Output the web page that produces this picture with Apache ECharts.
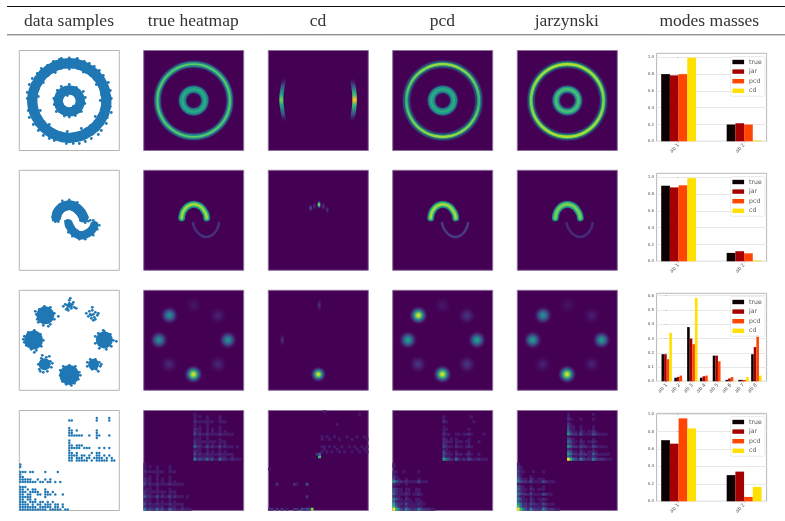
<!DOCTYPE html>
<html><head><meta charset="utf-8">
<style>html,body{margin:0;padding:0;background:#fff}#c{width:785px;height:521px}canvas{filter:blur(.45px)}</style>
<script src="https://cdn.jsdelivr.net/npm/echarts@6/dist/echarts.min.js"></script>
</head><body><div id="c"></div>
<script>
const columnTitles=['data samples','true heatmap','cd','pcd','jarzynski','modes masses'];
const legendNames=['true','jar','pcd','cd'];
const barColors=['#0d0000','#a50000','#ff4500','#ffe000'];
const massLabels2=['ab 1','ab 2'];
const massLabels8=['ab 1','ab 2','ab 3','ab 4','ab 5','ab 6','ab 7','ab 8'];
const massRow1=[[.80,.20],[.785,.215],[.80,.20],[.995,.01]];
const massRow2=[[.90,.10],[.88,.12],[.905,.095],[.99,.01]];
const massRow3=[[.19,.025,.38,.025,.18,.01,.01,.19],[.19,.03,.30,.035,.18,.02,.01,.24],[.155,.04,.26,.04,.14,.03,.01,.325],[.34,.002,.585,.002,.002,.002,.03,.04]];
const massRow4=[[.70,.30],[.66,.34],[.95,.05],[.835,.165]];

const ringCore=[[87,50],[86,56.5],[84.8,62.5],[82,68.4],[78.2,73.6],[73.6,78.2],[68.4,81.8],[62.5,85],[56.4,87],[50,87.4],[43.4,87],[37.3,85.2],[31.6,82],[26.2,78],[21.8,73.6],[18.4,68.4],[15.4,62.3],[13.6,56.4],[13,50],[13.6,43.5],[15.3,37.3],[18.2,31.6],[21.8,26.4],[26.4,21.8],[31.6,18],[37.3,15],[43.5,13.3],[50,12.6],[56.5,13.4],[62.7,15],[68.4,18.2],[73.6,22],[78.2,26.4],[82,31.6],[85,37.3],[86.6,43.5]];
const ringCore2=[[86.9,53.2],[85.7,59.6],[83.5,65.6],[80.3,71.2],[76.2,76.2],[71.2,80.3],[65.6,83.5],[59.6,85.7],[53.2,86.9],[46.8,86.9],[40.4,85.7],[34.4,83.5],[28.8,80.3],[23.8,76.2],[19.7,71.2],[16.5,65.6],[14.3,59.6],[13.1,53.2],[13.1,46.8],[14.3,40.4],[16.5,34.4],[19.7,28.8],[23.8,23.8],[28.8,19.7],[34.4,16.5],[40.4,14.3],[46.8,13.1],[53.2,13.1],[59.6,14.3],[65.6,16.5],[71.2,19.7],[76.2,23.8],[80.3,28.8],[83.5,34.4],[85.7,40.4],[86.9,46.8]];
const ringFuzz=[[92,52],[91,60],[88,33],[91,44],[84,75],[75,84],[65,89],[50,92.5],[40,91],[28,85],[18,77],[10,66],[8,52],[9,40],[14,26],[24,15],[35,10],[47,7],[60,7],[72,12],[82,20],[87,27],[50,81.5],[64,78.5],[77,66],[81,50],[76,34],[62,22],[48,19],[30,26],[21,40],[19,54],[24,68],[36,78],[42,92],[58,92],[70,87],[80,80],[89,68],[92,38],[79,16],[66,9],[54,7],[30,12],[19,20],[10,33],[8,58],[13,72],[22,82],[34,89]];
const innerCore=[[61,49.5],[59.5,55],[55.5,59],[50,60.5],[44.5,59],[40.5,55],[39,49.5],[40.5,44],[44.5,40],[50,38.5],[55.5,40],[59.5,44],[60.6,52.3],[57.8,57.3],[52.8,60.1],[47.2,60.1],[42.2,57.3],[39.4,52.3],[39.4,46.7],[42.2,41.7],[47.2,38.9],[52.8,38.9],[57.8,41.7],[60.6,46.7]];
const innerFuzz=[[50,66],[66,53],[62,39],[50,33.5],[37,39],[34.5,52],[42,64],[57,63],[48,55],[54,44],[65.5,47],[35,46],[45,34.5],[56,35],[64,59],[38,60]];
const moonUpper=[[37,53.3],[37.6,56],[38.3,58],[40,60.2],[41.7,62],[43.8,63.4],[46,64.3],[48.2,64.8],[50.3,65],[52.8,64.6],[55,63.7],[57,62.3],[59,60.7],[60.6,59],[62,57.3],[63.3,55],[64.3,52.7]];
const moonLower=[[49.3,46.7],[50.4,44],[51.7,41.7],[53.2,39.6],[55,38],[57,36.5],[59.3,35.3],[61.5,35],[63.7,35],[66,35.8],[68.3,37],[70.4,38.3],[72.3,40],[73.9,42.4],[75,45]];
const moonFuzz=[[33.5,53],[34,50],[39,48.5],[36,48.5],[37,62],[43,69.5],[50,70.5],[58,68],[65,59],[68,53],[69,49],[61,50],[66,47.5],[46,49],[47,44],[49,38],[53,34],[60,31],[66,31],[74,35],[78,41],[80,45],[74,50],[71,50],[48,50]];
const gaussCore=[[26,75,18],[85,50.3,17],[14.3,50.3,19],[50,15.3,20],[25.3,26,12],[74.3,26,11],[50.3,85,5]];
const gaussFuzz=[[17,76],[18,71],[20,81],[25,84],[31,83],[35,77],[35,71],[31,66],[24,65],[19,68],[39,74],[29,64],[16,79],[76,54],[76,47],[79,57],[85,59],[91,56],[94,50],[92,44],[87,41],[80,42],[97,49],[84,60],[5,54],[5,48],[7,45],[9,58],[15,60],[21,56],[24,50],[22,44],[17,40],[12,41],[4,51],[15,38],[41,15],[41,20],[44,24],[50,25],[56,24],[60,18],[59,11],[55,7],[47,6],[43,9],[52,5],[61,15],[19,26],[20,21],[22,32],[27,33],[31,29],[32,23],[28,19],[24,18],[21,19],[30,34],[33,27],[23,35],[68,28],[68,24],[71,31],[76,31],[80,28],[81,24],[77,21],[79,19],[73,21],[82,26],[44,84],[46,86],[48,82],[50,87],[52,84],[54,88],[50,90],[52,82],[49,80],[55,83],[47,81],[51,92],[53,86],[50,84],[48,85],[57,82],[67,77],[69,74],[70,79],[72,72],[73,80],[74,76],[75,73],[76,78],[78,75],[74,70],[71,76],[73,83],[79,77],[76,71],[72,75]];
const samplesTopRight=[
"....................","...........#....#...","##.........#....#...","....................","....................","#...................","##.#.......#........","##.........#........","######..#..##...#...","...........#........","#...................","#...................","##.###..............","#####.###...#.#.#...","#...................","##.#.....#.##.......","####.##.#..##.#.#...","##.###.##.####.#.#..","##.#####.#.#####.##."];
const samplesBottomLeft=[
"#...................","#...................","....................","###.##....#....#....","#...................","##..................","#####..#..#.#.......","#######.##.##.#.#...","....................","###.................","##.#.##...#.........","###.####..##.#......","##.##..##.###.#..#..","#####.....#.........","##.##.#.............","###.###.##.#.#......","####.#.##.###.##.#..","#######.#####.##.#..","###########.#####.##"];

const ringA=[[86.3,50],[85.1,59.4],[81.4,68.2],[75.7,75.7],[68.2,81.4],[59.4,85.1],[50,86.3],[40.6,85.1],[31.8,81.4],[24.3,75.7],[18.6,68.2],[14.9,59.4],[13.7,50],[14.9,40.6],[18.6,31.8],[24.3,24.3],[31.8,18.6],[40.6,14.9],[50,13.7],[59.4,14.9],[68.2,18.6],[75.7,24.3],[81.4,31.8],[85.1,40.6],[86.3,50]];
const ringB=[[61.3,50],[59.8,55.7],[55.7,59.8],[50,61.3],[44.3,59.8],[40.2,55.7],[38.7,50],[40.2,44.3],[44.3,40.2],[50,38.7],[55.7,40.2],[59.8,44.3],[61.3,50]];
const crescentLeft=[[16,71.3],[14.3,63.3],[13,51.3],[14.3,39],[16,30]];
const crescentRight=[[83.7,71.3],[85.3,63.3],[86.3,51.3],[85.3,39],[83.7,30]];
const arcUpper=[[38,52.3],[38.6,56],[39.7,59],[41.6,61.8],[44,64],[47,65.5],[50,66],[53,65.5],[56.3,64],[58.7,61.8],[60.7,59],[62.3,56],[63,52.3]];
const arcLower=[[49.3,47.3],[50.6,43],[53,39],[57,35.2],[62.3,33.3],[67.5,34.8],[71.3,38],[74,42.5],[75.3,47.3]];
const cdArcSpots=[[50.7,65.7,1],[42.3,62.3,.28],[46,64,.15],[55,64,.18],[59,60.7,.15]];
const modePositions=[[25.7,75],[15.3,50.3],[84.3,50.3],[49.7,16],[50,85],[74.3,74.7],[25.3,26],[74.3,26]];
const modesTrue=[.52,.52,.52,1,.06,.09,.11,.11];
const modesPcd=[1,.6,.6,1,.06,.15,.16,.16];
const modesJar=[.52,.58,.58,1,.05,.08,.09,.09];
const cdModeSpots=[[50,16,1],[51,85,.14],[14,50.3,.14]];

const heatTrue=["10000000000000000000","10100100001000000000","10000100001000000000","21111111001110000000","10000100000000000000","10100100001000000000","21100101001000000000","21100101001010000000","31211211112111110000","10100100000000000000","11100100001000000000","21111111101110000000","21100101001010000000","42211312113121110100","11100100001000000000","21100101001010000000","31211211112111110000","21111111001110010000","52322423114221121110"];
const heatPcdTop=["00000000000000000000","10000000000100000000","10000000000000000000","21000000000010000000","00000000000000000000","10000000000000000000","11000000001000000000","10000000000000000000","21100110112100001000","10000000000000000000","21010100001000000000","22110111011000100000","21000100001000000000","32110211012100000000","11000000000000000000","31100100001000000000","32110211012100100000","31100100001000000000","64321421213211211100"];
const heatPcdBottom=["10000000000000000000","10000000000000000000","00000000000000000000","21001000001000000000","10000000000000000000","21000000000000000000","31100100001000000000","64221211113111000000","21100100000000000000","10000000000000000000","32110110011000000000","32110110011000000000","42111210112100000000","21100100000000000000","53210210011000000000","42111111011100000000","63221311112110000000","74211211111100000000","97532532225322211000"];
const heatJarTop=["10000000001000000000","10000000000000000000","21000100001000000000","10000000000000000000","21000000000000000000","31100100001000000000","31100100001000000000","42110210112100000000","63221311113211110000","10000000000000000000","32100100001000000000","43110210112100000000","32100110001000000000","64221322113211110000","21000100001000000000","43110210112100000000","64221322114211111000","43110210112100000000","97432532225322211100"];
const heatJarBottom=["10000000000000000000","21000000000000000000","21000000000000000000","31100010001000000000","21000000000000000000","31000100000000000000","42110210111000000000","53221311113211100000","10000000000000000000","32100100001000000000","42110210111000000000","32100100000000000000","53221311113211000000","31100100000000000000","53110210112100000000","42110210011000000000","64221322113211100000","74221211112100000000","97532532225322211000"];
const heatCdCells=[[20,21,7],[20,22,4],[19,22,2],[17,0,8],[16,0,3],[13,0,3],[10,0,2],[11,0,2],[0,0,2],[1,0,2],[3,0,2],[5,0,2],[7,0,1],[15,0,3],[14,0,2],[3,10,2],[10,10,2],[11,10,1],[15,10,3],[15,5,2],[0,16,1],[22,39,1],[36,38,1],[27,34,1],
[21,29,1],[23,29,1],[26,29,1],[31,29,1],[35,29,1],[38,29,1],[21,28,1],[24,28,1],[28,28,1],[33,28,1],[39,28,1],[21,25,1],[22,25,1],[24,25,1],[26,25,1],[29,25,1],[32,25,1],[34,25,1],[37,25,1],[39,25,1],[22,24,1],[27,24,1],[35,24,1],[38,24,1],[21,23,1],[23,23,1],[25,23,1],[28,23,1],[30,23,1],[33,23,1],[36,23,1],[39,23,1]];

const VIR=['#440154','#482878','#3e4989','#31688e','#26828e','#1f9e89','#35b779','#6ece58','#b5de2b','#fde725'];
const HEATMAP_COLORS=['#440154','#46196b','#472d7b','#3e4989','#31688e','#26828e','#1f9e89','#35b779','#8fd744','#fde725'];
const hex=c=>[1,3,5].map(i=>parseInt(c.substr(i,2),16));
function vir(t){t=Math.max(0,Math.min(1,t))*9;const i=Math.min(8,Math.floor(t)),f=t-i,a=hex(VIR[i]),b=hex(VIR[i+1]);return 'rgb('+a.map((v,k)=>Math.round(v+(b[k]-v)*f)).join(',')+')';}
const blob=v=>({type:'radial',x:.5,y:.5,r:.5,colorStops:[{offset:0,color:vir(v)},{offset:.2,color:vir(v*.82)},{offset:.45,color:vir(v*.45)},{offset:.72,color:vir(v*.1)},{offset:1,color:'rgba(68,1,84,0)'}]});

const colLeft=[19.3,143.7,268.3,392.7,517.3];
const rowTop=[50.5,170.3,290.3,410.5];
const grid=[],xAxis=[],yAxis=[],series=[],legend=[],heatIdx=[];
function panel(l,t,bg,cat){
  const g=grid.length;
  grid.push({left:l,top:t,width:100,height:100,show:true,backgroundColor:bg,borderColor:bg==='#fff'?'#b4b4b4':'#8f6fa0',borderWidth:1});
  const cats=Array.from({length:40},(_,i)=>i);
  xAxis.push(cat?{gridIndex:g,type:'category',data:cats,show:false}:{gridIndex:g,type:'value',min:0,max:100,show:false});
  yAxis.push(cat?{gridIndex:g,type:'category',data:cats,show:false}:{gridIndex:g,type:'value',min:0,max:100,show:false});
  return g;
}
const dots=(g,data,size)=>series.push({type:'scatter',xAxisIndex:g,yAxisIndex:g,data,symbolSize:size,itemStyle:{color:'#1f77b4',opacity:1},silent:true});
function stroke(g,data,width,color,blur,op){series.push({type:'line',xAxisIndex:g,yAxisIndex:g,data,smooth:true,symbol:'none',silent:true,lineStyle:{width,color,opacity:op==null?1:op,shadowBlur:blur||0,shadowColor:blur?color:'transparent',cap:'round'}});}
const vg=(a,b)=>({type:'linear',x:0,y:0,x2:0,y2:1,colorStops:[{offset:0,color:a},{offset:.5,color:b},{offset:1,color:a}]});
function ring(g,data,wh,wm,wc,cm,cc){stroke(g,data,wh,'#31688e',2,.6);stroke(g,data,wm,cm,1,.95);stroke(g,data,wc,cc);}
function modes(g,pos,vals,size){series.push({type:'scatter',xAxisIndex:g,yAxisIndex:g,silent:true,symbolSize:size,data:pos.map((p,i)=>[p[0],p[1],vals[i]]),itemStyle:{opacity:1,color:p=>blob(p.value[2])}});}
function spots(g,data,size){series.push({type:'scatter',xAxisIndex:g,yAxisIndex:g,silent:true,symbolSize:size,data,itemStyle:{opacity:1,color:p=>blob(p.value[2])}});}
function cells(strs,c0,r0){const out=[];strs.forEach((s,i)=>{const r=r0+strs.length-1-i;[...s].forEach((ch,c)=>{const v=+ch;if(v>0)out.push([c0+c,r,v]);});});return out;}
function marks(strs,x0,y0){const out=[];strs.forEach((s,i)=>{const r=strs.length-1-i;[...s].forEach((ch,c)=>{if(ch==='#')out.push([x0+c*2.5,y0+r*2.5]);});});return out;}
function heat(g,data){heatIdx.push(series.length);series.push({type:'heatmap',xAxisIndex:g,yAxisIndex:g,data,silent:true,progressive:0,emphasis:{disabled:true}});}

// Row 1
let g=panel(colLeft[0],rowTop[0],'#fff');dots(g,ringCore,10.5);dots(g,ringCore2,10.5);dots(g,innerCore,9.5);dots(g,ringFuzz.concat(innerFuzz),2.8);
g=panel(colLeft[1],rowTop[0],'#440154');ring(g,ringA,6.5,4,1.8,'#21918c','#5ec962');ring(g,ringB,7.5,5.5,2,'#21918c','#2ab07f');
g=panel(colLeft[2],rowTop[0],'#440154');
const cres=(a,b,c)=>({type:'linear',x:0,y:0,x2:0,y2:1,colorStops:[{offset:0,color:'rgba(68,1,84,0)'},{offset:.18,color:a},{offset:.38,color:b},{offset:.5,color:c},{offset:.62,color:b},{offset:.82,color:a},{offset:1,color:'rgba(68,1,84,0)'}]});
stroke(g,crescentLeft,4,cres('#3e4989','#1f9e89','#6ece58'));stroke(g,crescentRight,4.5,cres('#3e4989','#35b779','#fdc725'));
g=panel(colLeft[3],rowTop[0],'#440154');ring(g,ringA,7,4.5,2.2,vg('#2a9d8c','#26828e'),vg('#a5db36','#35b779'));ring(g,ringB,7.5,5.5,2,'#21918c','#2ab07f');
g=panel(colLeft[4],rowTop[0],'#440154');ring(g,ringA,7,4.5,2.4,vg('#35b779','#2a9d8c'),vg('#b5de2b','#7ad151'));ring(g,ringB,7.5,5,2.2,'#2a9d8c','#4ac16d');
// Row 2
g=panel(colLeft[0],rowTop[1],'#fff');dots(g,moonUpper,10);dots(g,moonLower,8.5);dots(g,moonFuzz,2.6);
const arcs=(g,cm,cc,low)=>{stroke(g,arcUpper,6.5,'#21918c',1,.8);stroke(g,arcUpper,4.5,cm,0);stroke(g,arcUpper,2.5,cc);stroke(g,arcLower,2.6,low);};
g=panel(colLeft[1],rowTop[1],'#440154');arcs(g,'#35b779','#a0da39','#45307c');
g=panel(colLeft[2],rowTop[1],'#440154');spots(g,cdArcSpots,[5,9]);
g=panel(colLeft[3],rowTop[1],'#440154');arcs(g,'#35b779','#a5db36','#463a80');
g=panel(colLeft[4],rowTop[1],'#440154');arcs(g,'#35b779','#7ad151','#452a78');
// Row 3
g=panel(colLeft[0],rowTop[2],'#fff');series.push({type:'scatter',xAxisIndex:g,yAxisIndex:g,silent:true,data:gaussCore,symbolSize:v=>v[2],itemStyle:{color:'#1f77b4',opacity:1}});dots(g,gaussFuzz,2.8);
g=panel(colLeft[1],rowTop[2],'#440154');modes(g,modePositions,modesTrue,20);
g=panel(colLeft[2],rowTop[2],'#440154');spots(g,cdModeSpots.slice(0,1),17);spots(g,cdModeSpots.slice(1),[6,15]);
g=panel(colLeft[3],rowTop[2],'#440154');modes(g,modePositions,modesPcd,20);
g=panel(colLeft[4],rowTop[2],'#440154');modes(g,modePositions,modesJar,20);
// Row 4
g=panel(colLeft[0],rowTop[3],'#fff');dots(g,marks(samplesTopRight,50,50),2.4);dots(g,marks(samplesBottomLeft,1,1),2.4);
g=panel(colLeft[1],rowTop[3],'#440154',true);heat(g,cells(heatTrue,20,20).concat(cells(heatTrue,0,0)));
g=panel(colLeft[2],rowTop[3],'#440154',true);heat(g,heatCdCells);
g=panel(colLeft[3],rowTop[3],'#440154',true);heat(g,cells(heatPcdTop,20,20).concat(cells(heatPcdBottom,0,0)));
g=panel(colLeft[4],rowTop[3],'#440154',true);heat(g,cells(heatJarTop,20,20).concat(cells(heatJarBottom,0,0)));

// Bars
function bars(rowY,labels,values,min,max,yMax,ticks,barW){
  const i=grid.length,L=656.6,W=110;
  grid.push({left:L,top:rowY+8.3,width:W,height:88,show:true,backgroundColor:'#fff',borderColor:'#b8b8b8',borderWidth:1});
  const xv=labels.map((_,k)=>k);
  xAxis.push({gridIndex:i,type:'value',min,max,splitLine:{show:false},axisLine:{show:false},
    axisTick:{show:true,length:1.5,customValues:xv,lineStyle:{color:'#999',width:.5}},
    axisLabel:{customValues:xv,rotate:45,fontSize:5,margin:3,color:'#555',fontFamily:'DejaVu Sans',formatter:v=>labels[Math.round(v)]}});
  yAxis.push({gridIndex:i,type:'value',min:0,max:yMax,splitLine:{show:true,lineStyle:{color:'#e8e8e8',width:1.2}},axisLine:{show:false},
    axisTick:{show:true,length:1.5,customValues:ticks,lineStyle:{color:'#999',width:.5}},
    axisLabel:{customValues:ticks,fontSize:4,margin:2.5,color:'#555',fontFamily:'DejaVu Sans',formatter:v=>v.toFixed(1)}});
  legendNames.forEach((n,s)=>series.push({type:'bar',name:n,xAxisIndex:i,yAxisIndex:i,barWidth:barW,barGap:'0%',silent:true,itemStyle:{color:barColors[s]},data:values[s].map((v,k)=>[k,v])}));
  legend.push({left:730.7,top:rowY+11.5,orient:'vertical',icon:'rect',itemWidth:11.7,itemHeight:4.4,itemGap:3.6,padding:[2.5,3,2.5,1.7],selectedMode:false,data:legendNames,backgroundColor:'rgba(255,255,255,.85)',borderColor:'#ececec',borderWidth:1,borderRadius:1.5,textStyle:{fontSize:6.2,color:'#555',padding:[0,0,0,0],fontFamily:'DejaVu Sans'}});
}
const t1=[0,.2,.4,.6,.8,1],t3=[0,.1,.2,.3,.4,.5,.6];
bars(45,massLabels2,massRow1,-.336,1.344,1.048,t1,8.7);
bars(165,massLabels2,massRow2,-.336,1.344,1.048,t1,8.7);
bars(285,massLabels8,massRow3,-.79,7.8,.617,t3,2.6);
bars(405,massLabels2,massRow4,-.336,1.344,1.008,t1,8.7);

const titleX=[69,193.3,318,442.3,566.7,709.3];
const title=columnTitles.map((t,i)=>({text:t,left:titleX[i],top:12,padding:0,textAlign:'center',textStyle:{fontFamily:'Liberation Serif',fontWeight:'normal',fontSize:17.5,color:'#333'}}));
const graphic=[{type:'line',shape:{x1:7,y1:6.5,x2:785,y2:6.5},style:{stroke:'#111',lineWidth:1.2}},{type:'line',shape:{x1:7,y1:34.8,x2:785,y2:34.8},style:{stroke:'#666',lineWidth:1}}];
const chart=echarts.init(document.getElementById('c'),null,{renderer:'canvas'});
chart.setOption({animation:false,backgroundColor:'#fff',title,graphic,grid,xAxis,yAxis,legend,series,tooltip:{show:false},
  visualMap:{show:false,seriesIndex:heatIdx,min:0,max:9,dimension:2,inRange:{color:HEATMAP_COLORS}}});
</script></body></html>
